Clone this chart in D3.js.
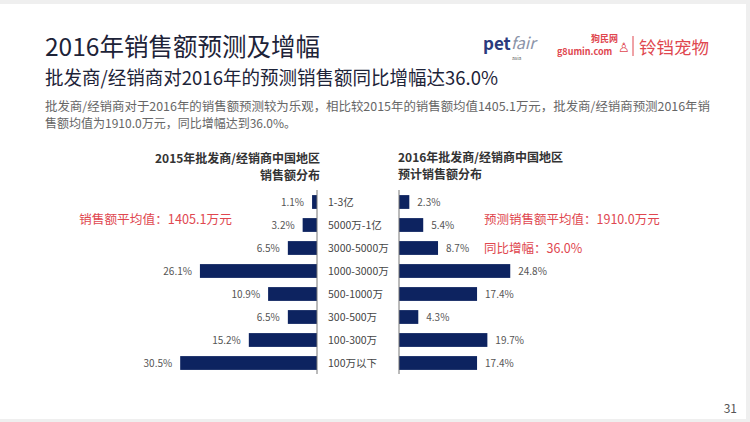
<!DOCTYPE html>
<html><head><meta charset="utf-8">
<script src="https://cdn.jsdelivr.net/npm/d3@7"></script>
<style>body{margin:0;background:#fff}svg{display:block}text{font-family:"Noto Sans CJK SC","Noto Sans",sans-serif}</style>
</head><body><svg id="c" width="750" height="422"></svg>
<script>
const categories = ["1-3亿","5000万-1亿","3000-5000万","1000-3000万","500-1000万","300-500万","100-300万","100万以下"];
const values2015 = [1.1,3.2,6.5,26.1,10.9,6.5,15.2,30.5];
const values2016 = [2.3,5.4,8.7,24.8,17.4,4.3,19.7,17.4];
const title = "2016年销售额预测及增幅";
const subtitle = "批发商/经销商对2016年的预测销售额同比增幅达36.0%";
const bodyLines = ["批发商/经销商对于2016年的销售额预测较为乐观，相比较2015年的销售额均值1405.1万元，批发商/经销商预测2016年销","售额均值为1910.0万元，同比增幅达到36.0%。"];
const leftTitle = ["2015年批发商/经销商中国地区","销售额分布"];
const rightTitle = ["2016年批发商/经销商中国地区","预计销售额分布"];
const leftNote = "销售额平均值：1405.1万元";
const rightNotes = ["预测销售额平均值：1910.0万元","同比增幅：36.0%"];
const pageNo = "31";

const svg = d3.select("#c");
svg.append("rect").attr("width",750).attr("height",422).attr("fill","#efefef");
svg.append("rect").attr("x",0).attr("y",4).attr("width",746).attr("height",415).attr("fill","#fff");

const navy = "#0d2360", red = "#e0474f";

svg.append("text").attr("x",45).attr("y",56).attr("font-size",24.5).attr("fill","#1d2338").text(title);
svg.append("text").attr("x",45).attr("y",85).attr("font-size",19).attr("fill","#1d2338").attr("textLength",453).attr("lengthAdjust","spacingAndGlyphs").text(subtitle);
svg.selectAll(".body").data(bodyLines).join("text").attr("x",45).attr("y",(d,i)=>111+i*16.5)
  .attr("font-size",12).attr("fill","#666")
  .each(function(d,i){ if(i===0) d3.select(this).attr("textLength",665).attr("lengthAdjust","spacingAndGlyphs"); })
  .text(d=>d);

// logos
const lg = svg.append("g");
lg.append("text").attr("x",483).attr("y",50).attr("font-size",17).attr("font-weight","bold").attr("fill","#2b3a7c").attr("font-family","Liberation Sans").text("pet");
lg.append("text").attr("x",511).attr("y",49).attr("font-size",16).attr("font-style","italic").attr("fill","#8a93a8").attr("font-family","DejaVu Serif").text("fair");
lg.append("text").attr("x",512).attr("y",60).attr("font-size",5).attr("fill","#555").text("asia");
lg.append("text").attr("x",591).attr("y",42).attr("font-size",9).attr("font-weight","bold").attr("fill",red).text("狗民网");
lg.append("text").attr("x",557).attr("y",55).attr("font-size",9).attr("font-weight","bold").attr("fill",red).attr("font-family","DejaVu Sans Mono").text("g8umin.com");
lg.append("text").attr("x",618).attr("y",52).attr("font-size",13).attr("fill",red).text("♙");
lg.append("line").attr("x1",633).attr("x2",633).attr("y1",36).attr("y2",56).attr("stroke",red).attr("stroke-width",1);
lg.append("text").attr("x",639).attr("y",54).attr("font-size",17.5).attr("fill",red).text("铃铛宠物");

// scales
const y = d3.scaleBand().domain(categories).range([190.5,374.5]).paddingInner(0.4).paddingOuter(0.2);
const axL = 317, axR = 399;
const xL = d3.scaleLinear().domain([0,35]).range([axL, axL-157]);
const xR = d3.scaleLinear().domain([0,35]).range([axR, axR+157]);

// left chart
svg.selectAll(".barL").data(values2015).join("rect")
  .attr("x",d=>xL(d)).attr("y",(d,i)=>y(categories[i])).attr("width",d=>xL(0)-xL(d)).attr("height",y.bandwidth()).attr("fill",navy);
svg.selectAll(".valL").data(values2015).join("text")
  .attr("x",d=>xL(d)-8).attr("y",(d,i)=>y(categories[i])+y.bandwidth()/2).attr("dy","0.35em")
  .attr("text-anchor","end").attr("font-size",10).attr("fill","#555").text(d=>d.toFixed(1)+"%");
svg.append("line").attr("x1",axL).attr("x2",axL).attr("y1",190).attr("y2",374).attr("stroke","#777").attr("stroke-width",1);

// category labels
svg.selectAll(".cat").data(categories).join("text")
  .attr("x",328).attr("y",d=>y(d)+y.bandwidth()/2).attr("dy","0.35em")
  .attr("font-size",10.5).attr("fill","#444").text(d=>d);

// right chart
svg.selectAll(".barR").data(values2016).join("rect")
  .attr("x",xR(0)).attr("y",(d,i)=>y(categories[i])).attr("width",d=>xR(d)-xR(0)).attr("height",y.bandwidth()).attr("fill",navy);
svg.selectAll(".valR").data(values2016).join("text")
  .attr("x",d=>xR(d)+8).attr("y",(d,i)=>y(categories[i])+y.bandwidth()/2).attr("dy","0.35em")
  .attr("font-size",10).attr("fill","#555").text(d=>d.toFixed(1)+"%");
svg.append("line").attr("x1",axR).attr("x2",axR).attr("y1",190).attr("y2",374).attr("stroke","#777").attr("stroke-width",1);

// chart titles
svg.selectAll(".tl").data(leftTitle).join("text").attr("x",320).attr("y",(d,i)=>163+i*17)
  .attr("text-anchor","end").attr("font-size",12).attr("font-weight","bold").attr("fill","#333").text(d=>d);
svg.selectAll(".tr").data(rightTitle).join("text").attr("x",398).attr("y",(d,i)=>162+i*17)
  .attr("font-size",12).attr("font-weight","bold").attr("fill","#333").text(d=>d);

// annotations
svg.append("text").attr("x",79).attr("y",224).attr("font-size",12.5).attr("fill",red).attr("textLength",153).attr("lengthAdjust","spacingAndGlyphs").text(leftNote);
svg.selectAll(".rn").data(rightNotes).join("text").attr("x",484).attr("y",(d,i)=>224+i*29)
  .attr("font-size",12.5).attr("fill",red).text(d=>d);

svg.append("text").attr("x",737).attr("y",413).attr("text-anchor","end").attr("font-size",12).attr("fill","#555").text(pageNo);
</script></body></html>
